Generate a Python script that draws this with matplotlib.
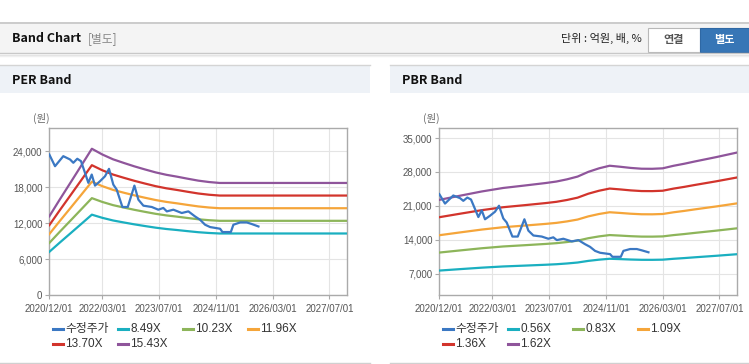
import matplotlib
matplotlib.use("Agg")
import matplotlib.pyplot as plt
from matplotlib.patches import Rectangle
from matplotlib.lines import Line2D
import numpy as np
import pandas as pd

plt.rcParams['font.family'] = ['Liberation Sans', 'Noto Sans CJK KR', 'DejaVu Sans']

# ---------------- data ----------------
x_tick_labels = ['2020/12/01', '2022/03/01', '2023/07/01', '2024/11/01', '2026/03/01', '2027/07/01']

price_dates = ['2020-12-01', '2021-01-19', '2021-03-31', '2021-05-28', '2021-06-25', '2021-07-29',
               '2021-08-30', '2021-10-03', '2021-11-01', '2021-11-30', '2021-12-28', '2022-02-09',
               '2022-03-24', '2022-04-27', '2022-06-03', '2022-07-02', '2022-08-20', '2022-10-05',
               '2022-12-01', '2023-01-04', '2023-02-16', '2023-04-29', '2023-06-24', '2023-08-06',
               '2023-09-05', '2023-10-31', '2024-01-11', '2024-03-08', '2024-05-04', '2024-06-16',
               '2024-07-29', '2024-09-10', '2024-12-05', '2024-12-25', '2025-03-07', '2025-03-29',
               '2025-05-26', '2025-07-22', '2025-09-03', '2025-10-30']
price_values = [23440, 21490, 23160, 22610, 22060, 22730,
                22330, 20390, 18720, 20100, 18260, 18990,
                19820, 21050, 18430, 17600, 14700, 14700,
                18260, 15920, 14920, 14700, 14250, 14540,
                13970, 14250, 13700, 13970, 13130, 12580,
                11750, 11360, 11080, 10530, 10530, 11750,
                12130, 12130, 11860, 11460]

per_dates = ['2020-12-01', '2021-03-01', '2021-06-01', '2021-09-01', '2021-12-01', '2022-03-01',
             '2022-06-01', '2022-09-01', '2022-12-01', '2023-03-01', '2023-06-01', '2023-09-01',
             '2023-12-01', '2024-03-01', '2024-06-01', '2024-09-01', '2024-12-01', '2027-12-01']
per_eps = [852, 1034, 1216, 1399, 1581, 1519, 1467, 1428, 1391, 1358, 1326, 1300,
           1280, 1258, 1237, 1222, 1212, 1212]
per_multiples = [8.49, 10.23, 11.96, 13.70, 15.43]
per_labels = ['8.49X', '10.23X', '11.96X', '13.70X', '15.43X']

pbr_dates = ['2020-12-01', '2021-06-01', '2021-12-01', '2022-06-01', '2022-12-01', '2023-06-01',
             '2023-09-01', '2023-12-01', '2024-03-01', '2024-06-01', '2024-09-01', '2024-12-01',
             '2025-03-01', '2025-06-01', '2025-09-01', '2025-12-01', '2026-03-01', '2026-06-01',
             '2026-09-01', '2026-12-01', '2027-06-01', '2027-12-01']
pbr_bps = [13740, 14280, 14810, 15250, 15560, 15880, 16070, 16350, 16700, 17300, 17750, 18080,
           17950, 17800, 17700, 17690, 17750, 18070, 18330, 18620, 19170, 19765]
pbr_multiples = [0.56, 0.83, 1.09, 1.36, 1.62]
pbr_labels = ['0.56X', '0.83X', '1.09X', '1.36X', '1.62X']

price_label = '수정주가'
per_yticks = [0, 6000, 12000, 18000, 24000]
pbr_yticks = [7000, 14000, 21000, 28000, 35000]

# ---------------- style ----------------
price_color = '#3b78c3'
band_colors = ['#1aafc0', '#8db55a', '#f5a53a', '#d2342c', '#8f559b']
W, H = 749, 364

fig = plt.figure(figsize=(W / 100, H / 100), dpi=100)
fig.patch.set_facecolor('white')


def fx(x):
    return x / W


def fy(y):
    return 1 - y / H


def rect(x0, y0, x1, y1, **kw):
    fig.add_artist(Rectangle((fx(x0), fy(y1)), fx(x1) - fx(x0), fy(y0) - fy(y1),
                             transform=fig.transFigure, **kw))


def hline(x0, x1, y, color, lw=1.0):
    fig.add_artist(Line2D([fx(x0), fx(x1)], [fy(y), fy(y)], transform=fig.transFigure,
                          color=color, lw=lw))


# top header bar
rect(0, 22, W, 53, facecolor='#f4f4f4', edgecolor='none')
hline(0, W, 22.5, '#c4c4c4', 1.2)
hline(0, W, 53, '#c8c8c8', 1.0)
hline(0, W, 54.5, '#e2e2e2', 1.0)
hline(0, W, 55.5, '#efefef', 1.0)
fig.text(fx(12), fy(38.5), 'Band Chart', fontsize=9, fontweight='bold', color='#111111',
         va='center', ha='left', family=['Noto Sans CJK KR'])
fig.text(fx(88), fy(38.5), '[별도]', fontsize=8.5, color='#888888', va='center', ha='left',
         family=['Noto Sans CJK KR'])
fig.text(fx(642), fy(38.5), '단위 : 억원, 배, %', fontsize=8, color='#222222', va='center',
         ha='right', family=['Noto Sans CJK KR', 'DejaVu Sans'])
rect(647.5, 28, 700, 51.5, facecolor='white', edgecolor='#b8b8b8', lw=0.8)
fig.text(fx(673.5), fy(40), '연결', fontsize=8, fontweight='bold', color='#555555', va='center',
         ha='center', family=['Noto Sans CJK KR'])
rect(700, 28, 749, 51.5, facecolor='#3776b6', edgecolor='#2f68a4', lw=0.8)
fig.text(fx(724.5), fy(40), '별도', fontsize=8, fontweight='bold', color='white', va='center',
         ha='center', family=['Noto Sans CJK KR'])

# panels
for (px0, px1, title) in [(0, 370, 'PER Band'), (390, W, 'PBR Band')]:
    rect(px0, 65, px1, 93, facecolor='#eef2f7', edgecolor='none')
    hline(px0, px1, 64.5, '#d4d4d4', 1.0)
    hline(px0, px1, 362.5, '#d0d0d0', 1.0)
    fig.text(fx(px0 + 12), fy(80), title, fontsize=9, fontweight='bold', color='#111111',
             va='center', ha='left', family=['Noto Sans CJK KR'])
    fig.text(fx(px0 + 33), fy(118), '(원)', fontsize=7.5, color='#666666', va='center', ha='left',
             family=['Noto Sans CJK KR'])

xlim = (pd.Timestamp('2020-12-01'), pd.Timestamp('2027-12-01'))
xticks = [pd.Timestamp(s.replace('/', '-')) for s in x_tick_labels]


def make_axes(left, dates, base, multiples, labels, yticks, ylim):
    ax = fig.add_axes([fx(left), fy(295.3), fx(298), 167 / H])
    ax.set_facecolor('white')
    d = pd.to_datetime(dates)
    base = np.array(base, dtype=float)
    pd_dates = pd.to_datetime(price_dates)
    ax.plot(pd_dates, price_values, color=price_color, lw=1.6, zorder=5, solid_joinstyle='round')
    for m, c in zip(multiples, band_colors):
        ax.plot(d, base * m, color=c, lw=1.6, zorder=3)
    ax.set_xlim(*xlim)
    ax.set_ylim(*ylim)
    ax.set_xticks(xticks)
    ax.set_xticklabels(x_tick_labels)
    ax.set_yticks(yticks)
    ax.set_yticklabels([f'{v:,}' for v in yticks])
    ax.grid(True, color='#e4e4e4', lw=0.8)
    ax.set_axisbelow(True)
    for s in ax.spines.values():
        s.set_color('#aaaaaa')
        s.set_linewidth(1.0)
    ax.tick_params(axis='both', length=3, width=0.8, color='#aaaaaa', labelsize=7,
                   labelcolor='#555555', pad=2)
    ax.tick_params(axis='x', pad=3)
    # legend (manual layout)
    names = [price_label] + labels
    cols = [price_color] + band_colors
    positions = [(left + 4, 329), (left + 69, 329), (left + 134, 329), (left + 199, 329),
                 (left + 4, 344), (left + 69, 344)]
    for (lx, ly), n, c in zip(positions, names, cols):
        fig.add_artist(Line2D([fx(lx), fx(lx + 10)], [fy(ly), fy(ly)], transform=fig.transFigure,
                              color=c, lw=2.2))
        fig.text(fx(lx + 12), fy(ly), n, fontsize=8.5, color='#333333', va='center', ha='left')
    return ax


make_axes(49.3, per_dates, per_eps, per_multiples, per_labels, per_yticks, (0, 27800))
make_axes(439.3, pbr_dates, pbr_bps, pbr_multiples, pbr_labels, pbr_yticks, (2600, 37000))

fig.savefig('out.png', dpi=100, facecolor='white')
